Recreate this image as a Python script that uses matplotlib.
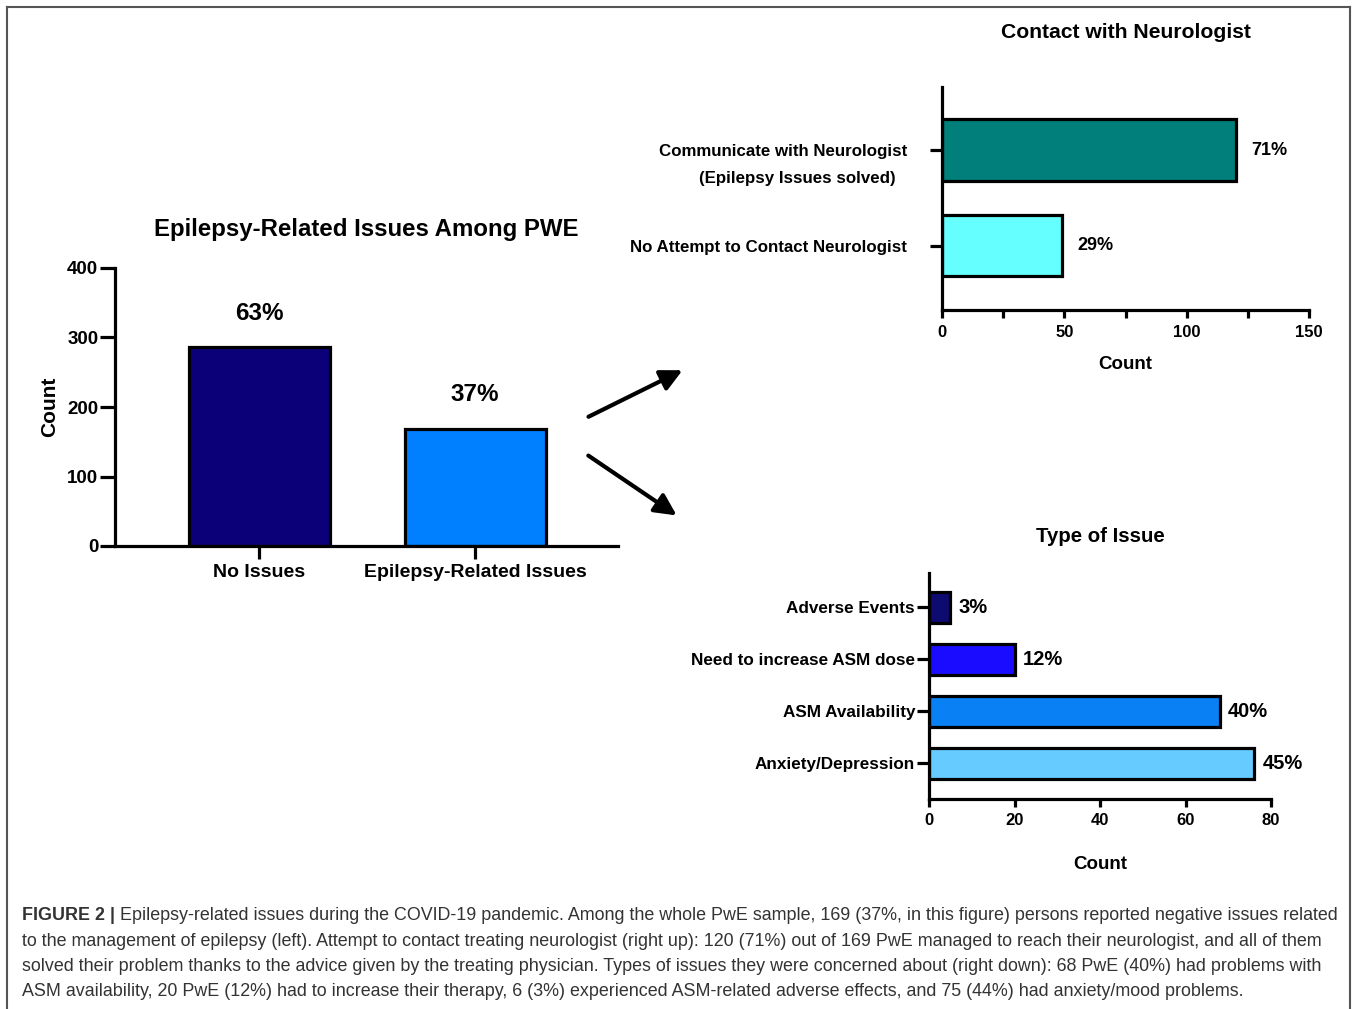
import matplotlib.pyplot as plt
import numpy as np
from matplotlib.lines import Line2D
from matplotlib.patches import FancyArrowPatch
from matplotlib.text import Annotation

plt.rcParams['font.family'] = ['Liberation Sans', 'DejaVu Sans']
plt.rcParams['font.weight'] = 'bold'

# left panel
main_cats = ['No Issues', 'Epilepsy-Related Issues']
main_counts = [286, 169]
main_pct = ['63%', '37%']
main_colors = ['#0c0078', '#0080ff']

# top right panel
contact_cats = ['No Attempt to Contact Neurologist', 'Communicate with Neurologist']
contact_counts = [49, 120]
contact_pct = ['29%', '71%']
contact_colors = ['#66ffff', '#007f7b']

# bottom right panel
issue_cats = ['Anxiety/Depression', 'ASM Availability', 'Need to increase ASM dose', 'Adverse Events']
issue_counts = [76, 68, 20, 5]
issue_pct = ['45%', '40%', '12%', '3%']
issue_colors = ['#66ccff', '#0a80f5', '#1a0dff', '#0d0a70']

caption_lines = [
    "Epilepsy-related issues during the COVID-19 pandemic. Among the whole PwE sample, 169 (37%, in this figure) persons reported negative issues related",
    "to the management of epilepsy (left). Attempt to contact treating neurologist (right up): 120 (71%) out of 169 PwE managed to reach their neurologist, and all of them",
    "solved their problem thanks to the advice given by the treating physician. Types of issues they were concerned about (right down): 68 PwE (40%) had problems with",
    "ASM availability, 20 PwE (12%) had to increase their therapy, 6 (3%) experienced ASM-related adverse effects, and 75 (44%) had anxiety/mood problems.",
]

W, H = 1357, 1009
fig = plt.figure(figsize=(W / 100, H / 100), dpi=100)


def px_axes(x0, y0, x1, y1):
    # pixel box (top-left origin) -> figure fraction
    return fig.add_axes([x0 / W, 1 - y1 / H, (x1 - x0) / W, (y1 - y0) / H])


def style(ax, lw=2.3):
    for s in ['top', 'right']:
        ax.spines[s].set_visible(False)
    for s in ['left', 'bottom']:
        ax.spines[s].set_linewidth(lw)
    ax.tick_params(width=lw, colors='black')


# ---- left chart
ax1 = px_axes(115, 268, 618, 546)
x = np.arange(len(main_cats))
ax1.bar(x, main_counts, width=0.653, color=main_colors, edgecolor='black', linewidth=2.3)
ax1.set_xlim(-0.667, 1.662)
ax1.set_ylim(0, 400)
ax1.set_yticks([0, 100, 200, 300, 400])
ax1.set_xticks(x)
ax1.set_xticklabels(main_cats, fontsize=14, fontweight='bold')
style(ax1)
ax1.tick_params(axis='y', length=11, labelsize=13.5, pad=1)
ax1.tick_params(axis='x', length=9, pad=4)
for xi, v, p in zip(x, main_counts, main_pct):
    ax1.text(xi, v + 49, p, ha='center', va='center', fontsize=17.5, fontweight='bold')
ax1.set_ylabel('Count', fontsize=15, fontweight='bold', labelpad=6)
ax1.set_title('Epilepsy-Related Issues Among PWE', fontsize=17.3, fontweight='bold', pad=23)

# ---- top right chart
ax2 = px_axes(942, 87, 1309, 310)
y2 = np.arange(len(contact_cats))
ax2.barh(y2, contact_counts, height=0.64, color=contact_colors, edgecolor='black', linewidth=2.3)
ax2.set_xlim(0, 150)
ax2.set_ylim(-0.675, 1.66)
ax2.set_xticks([0, 50, 100, 150])
ax2.set_xticks([25, 75, 125], minor=True)
ax2.set_yticks(y2)
ax2.set_yticklabels(contact_cats, fontsize=12.2, fontweight='bold')
style(ax2)
ax2.tick_params(axis='y', length=9, pad=16)
ax2.tick_params(axis='x', which='both', length=6, width=2.3, labelsize=12, pad=5)
ax2.text(-0.395, 1 - 28 / 95.5, '(Epilepsy Issues solved)', transform=ax2.get_yaxis_transform(),
         ha='center', va='center', fontsize=12.2, fontweight='bold')
for yi, v, p in zip(y2, contact_counts, contact_pct):
    ax2.text(v + 6.5, yi, p, ha='left', va='center', fontsize=13, fontweight='bold')
ax2.set_xlabel('Count', fontsize=13.5, fontweight='bold', labelpad=11)
ax2.set_title('Contact with Neurologist', fontsize=15.2, fontweight='bold', pad=35)

# ---- bottom right chart
ax3 = px_axes(929, 573, 1271, 799)
y3 = np.arange(len(issue_cats))
ax3.barh(y3, issue_counts, height=0.6, color=issue_colors, edgecolor='black', linewidth=2.3)
ax3.set_xlim(0, 80)
ax3.set_ylim(-0.683, 3.663)
ax3.set_xticks([0, 20, 40, 60, 80])
ax3.set_yticks(y3)
ax3.set_yticklabels(issue_cats, fontsize=12.3, fontweight='bold')
style(ax3)
ax3.tick_params(axis='y', length=9, pad=1)
ax3.tick_params(axis='x', length=6, labelsize=12, pad=4)
for yi, v, p in zip(y3, issue_counts, issue_pct):
    ax3.text(v + 2, yi, p, ha='left', va='center', fontsize=14.5, fontweight='bold')
ax3.set_xlabel('Count', fontsize=13.5, fontweight='bold', labelpad=20)
ax3.set_title('Type of Issue', fontsize=14.7, fontweight='bold', pad=22)

# ---- arrows linking the panels
arrow_kw = dict(arrowstyle='-|>,head_length=1.0,head_width=0.5', color='black', lw=3,
                transform=fig.transFigure, mutation_scale=13)
fig.add_artist(FancyArrowPatch((586 / W, 1 - 418 / H), (685 / W, 1 - 369 / H), **arrow_kw))
fig.add_artist(FancyArrowPatch((586 / W, 1 - 454 / H), (679 / W, 1 - 517 / H), **arrow_kw))

# ---- frame
fc = '#555555'
fig.add_artist(Line2D([7 / W, 1350 / W], [1 - 7 / H, 1 - 7 / H], color=fc, lw=1.5, transform=fig.transFigure))
fig.add_artist(Line2D([7 / W, 7 / W], [1 - 7 / H, 0], color=fc, lw=1.5, transform=fig.transFigure))
fig.add_artist(Line2D([1350 / W, 1350 / W], [1 - 7 / H, 0], color=fc, lw=1.5, transform=fig.transFigure))

# ---- caption
cap_kw = dict(fontsize=12.9, color='#333333', fontweight='normal')
head = fig.text(22 / W, 1 - 916 / H, 'FIGURE 2 | ', va='center', ha='left',
                fontsize=12.9, color='#333333', fontweight='bold')
fig.add_artist(Annotation(caption_lines[0], xy=(1, 0.5), xycoords=head, va='center', ha='left', **cap_kw))
for i, line in enumerate(caption_lines[1:]):
    fig.text(22 / W, 1 - (941 + 25.3 * i) / H, line, va='center', ha='left', **cap_kw)

fig.savefig('out.png', dpi=100)
